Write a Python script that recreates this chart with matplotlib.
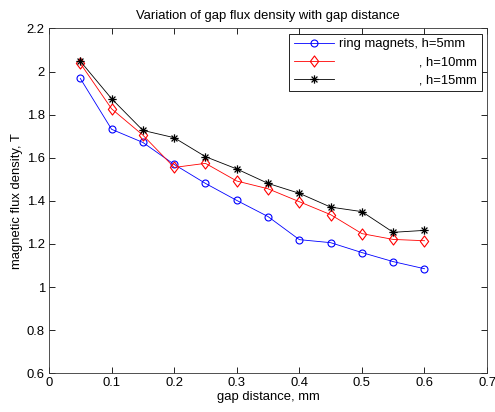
import matplotlib
matplotlib.use("Agg")
import matplotlib.pyplot as plt
from matplotlib.path import Path

gap = [0.05, 0.10, 0.15, 0.20, 0.25, 0.30, 0.35, 0.40, 0.45, 0.50, 0.55, 0.60]
b_h5 = [1.968, 1.732, 1.671, 1.569, 1.481, 1.402, 1.327, 1.220, 1.206, 1.160, 1.118, 1.085]
b_h10 = [2.038, 1.827, 1.705, 1.555, 1.574, 1.492, 1.456, 1.396, 1.336, 1.248, 1.221, 1.215]
b_h15 = [2.048, 1.874, 1.727, 1.693, 1.605, 1.548, 1.481, 1.435, 1.371, 1.350, 1.254, 1.263]
labels = ["ring magnets, h=5mm",
          "                      , h=10mm",
          "                      , h=15mm"]
xticks = [0, 0.1, 0.2, 0.3, 0.4, 0.5, 0.6, 0.7]
xticklabels = ["0", "0.1", "0.2", "0.3", "0.4", "0.5", "0.6", "0.7"]
yticks = [0.6, 0.8, 1.0, 1.2, 1.4, 1.6, 1.8, 2.0, 2.2]
yticklabels = ["0.6", "0.8", "1", "1.2", "1.4", "1.6", "1.8", "2", "2.2"]

# MATLAB-style asterisk marker: '+' and 'x' overlaid
d = 0.7071
star_path = Path(
    [(0, -1), (0, 1), (-1, 0), (1, 0), (-d, -d), (d, d), (-d, d), (d, -d)],
    [Path.MOVETO, Path.LINETO] * 4)
# MATLAB-style diamond
diamond_path = Path([(0, -1), (0.75, 0), (0, 1), (-0.75, 0), (0, -1)],
                    [Path.MOVETO, Path.LINETO, Path.LINETO, Path.LINETO, Path.CLOSEPOLY])

FS = 9.4
plt.rcParams['font.family'] = ['Liberation Sans', 'DejaVu Sans']
fig = plt.figure(figsize=(4.95, 4.12), dpi=100)
ax = fig.add_axes([0.099, 0.094, 0.885, 0.837])

ax.plot(gap, b_h5, color='#0000ff', marker='o', markersize=5, markerfacecolor='none',
        markeredgewidth=0.8, linewidth=0.6, label=labels[0])
ax.plot(gap, b_h10, color='#ff0000', marker=diamond_path, markersize=8, markerfacecolor='none',
        markeredgewidth=0.8, linewidth=0.6, label=labels[1])
ax.plot(gap, b_h15, color='#000000', marker=star_path, markersize=6, markerfacecolor='none',
        markeredgewidth=0.9, linewidth=0.6, label=labels[2])

ax.set_xlim(0, 0.7)
ax.set_ylim(0.6, 2.2)
ax.set_xticks(xticks)
ax.set_xticklabels(xticklabels)
ax.set_yticks(yticks)
ax.set_yticklabels(yticklabels)
ax.tick_params(direction='in', top=True, right=True, labelsize=FS, length=4, width=0.6, pad=3)
for s in ax.spines.values():
    s.set_linewidth(0.6)
    s.set_color('#333333')

ax.set_title("Variation of gap flux density with gap distance", fontsize=FS, pad=7)
ax.set_xlabel("gap distance, mm", fontsize=FS, labelpad=1)
ax.set_ylabel("magnetic flux density, T", fontsize=FS, labelpad=3)

leg = ax.legend(loc='upper right', fontsize=FS, fancybox=False, edgecolor='black',
                framealpha=1, borderaxespad=0.4, handlelength=3.1, labelspacing=0.45,
                borderpad=0.35, handletextpad=0.4)
leg.get_frame().set_linewidth(0.6)

fig.savefig("out.png", dpi=100)
